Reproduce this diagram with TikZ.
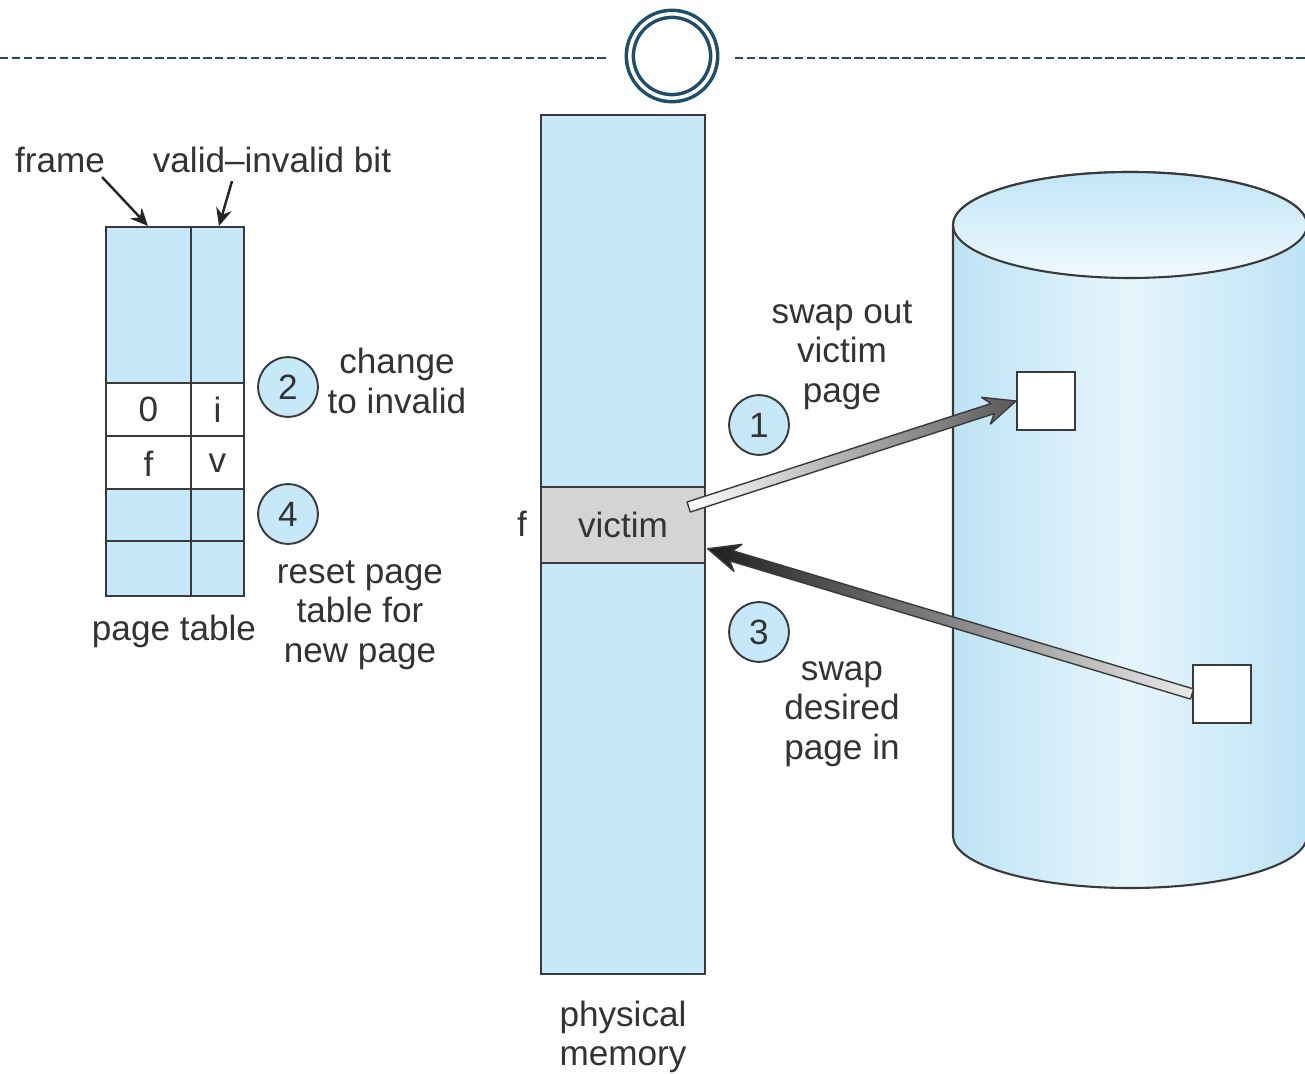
\documentclass[tikz,border=0pt]{standalone}
\usepackage{fontspec}
\setmainfont{Liberation Sans}
\usepackage{xcolor}
\usepackage{tikz}
\usetikzlibrary{positioning, arrows.meta, calc}
\definecolor{pageblue}{HTML}{C6E8F8}
\definecolor{diskedge}{HTML}{BDE3F6}
\definecolor{disklight}{HTML}{E6F5FC}
\definecolor{disktop}{HTML}{C2E5F7}
\definecolor{victimgray}{HTML}{D4D4D4}
\definecolor{inkgray}{HTML}{3A3A3A}
\definecolor{textgray}{HTML}{333333}
\definecolor{rulenavy}{HTML}{1F4E6B}

% thick shaded arrow: tail, tip, left colour, right colour
\newcommand{\swaparrow}[4]{%
  \coordinate (hb) at ($(#2)!18pt!(#1)$);
  \coordinate (hn) at ($(#2)!14pt!(#1)$);
  \shade[draw=inkgray, line width=0.8pt, line join=round, left color=#3, right color=#4]
    ($(#1)!3pt!90:(#2)$) -- ($(hn)!3pt!-90:(#1)$) -- ($(hb)!8pt!-90:(#1)$) -- (#2)
    -- ($(hb)!8pt!90:(#1)$) -- ($(hn)!3pt!90:(#1)$) -- ($(#1)!3pt!-90:(#2)$) -- cycle;}

\begin{document}
\begin{tikzpicture}[x=0.02cm, y=0.02cm, font=\fontsize{20}{22.5}\selectfont, text=textgray,
    cellbox/.style={draw=inkgray, line width=1.1pt},
    stepmark/.style={circle, draw=inkgray, fill=pageblue, line width=1.1pt, minimum size=34pt, inner sep=0pt},
    note/.style={align=center},
    lblarrow/.style={-{Stealth[length=10pt, width=9pt]}, line width=1.4pt, draw=black!85},
    diskslot/.style={draw=inkgray, fill=white, line width=1.1pt, minimum size=33pt, inner sep=0pt},
    dashrule/.style={rulenavy, line width=1.5pt, dash pattern=on 4.8pt off 2pt}]
    \useasboundingbox (0,0) rectangle (1305,1073);
    \fill[white] (0,0) rectangle (1305,1073);

    % top rule with ring
    \node (logo) [circle, draw=rulenavy, line width=2pt, double=white, double distance=2pt,
                  minimum size=48pt, inner sep=0pt] at (672,1017) {};
    \draw[dashrule] (0,1015) -- ($(logo.west)+(-19,-2)$);
    \draw[dashrule] ($(logo.east)+(19,-2)$) -- (1305,1015);

    % page table
    \fill[pageblue] (106,477) rectangle (244,846);
    \fill[white] (106,584) rectangle (244,690);
    \draw[cellbox] (106,477) rectangle (244,846);
    \draw[cellbox] (191,477) -- (191,846);
    \foreach \y in {532,584,637,690}
      \draw[cellbox] (106,\y) -- (244,\y);
    \node (frame0) at (148.5,663.5) {0};
    \node (bit0) at (217.5,663.5) {i};
    \node (framef) at (148.5,609.5) {f};
    \node (bitv) at (217.5,609.5) {v};
    \coordinate (frametop) at (148,847);
    \coordinate (bittop) at (219,847);

    \node (framelbl) at (60,913) {frame};
    \node (bitlbl) at (272,913) {valid--invalid bit};
    \draw[lblarrow] ($(framelbl.south east)+(-9,2)$) -- (frametop);
    \draw[lblarrow] ($(bitlbl.south)+(-40,-2)$) -- (bittop);
    \node (ptlbl) at (174,442) {page table};

    \node (step2) [stepmark] at (288,686) {2};
    \node (step2txt) [note] at (397,692) {change\\to invalid};
    \node (step4) [stepmark] at (288,559) {4};
    \node (step4txt) [note] at (360,458) {reset page\\table for\\new page};

    % physical memory
    \node (mem) [draw=inkgray, fill=pageblue, line width=1.1pt, minimum width=93pt,
                 minimum height=489pt, inner sep=0pt] at (623,528.5) {};
    \node (victim) [draw=inkgray, fill=victimgray, line width=1.1pt, minimum width=93pt,
                    minimum height=43pt] at (623,548) {victim};
    \node (flbl) at (522,549) {f};
    \node (memlbl) [note, below=11pt of mem] {physical\\memory};

    % backing store
    \shade[draw=inkgray, line width=1.2pt, left color=diskedge, right color=diskedge, middle color=disklight]
      (953,848) -- (953,237) arc[start angle=180, end angle=360, x radius=177, y radius=52]
      -- (1307,848) arc[start angle=0, end angle=180, x radius=177, y radius=53] -- cycle;
    \shade[draw=inkgray, line width=1.2pt, top color=disktop, bottom color=disklight!60!white]
      (1130,848) ellipse[x radius=177, y radius=53];
    \node (sqout) [diskslot] at (1046,672) {};
    \node (sqin) [diskslot] at (1222,379) {};

    \node (step1) [stepmark] at (759,648) {1};
    \node (step1txt) [note] at (842,718) {swap out\\victim\\page};
    \node (step3) [stepmark] at (759,441) {3};
    \node (step3txt) [note] at (842,359) {swap\\desired\\page in};

    \coordinate (outtail) at ($(victim.east)+(-17,18)$);
    \coordinate (intip) at ($(victim.south east)+(2,15)$);
    \swaparrow{outtail}{sqout.west}{white}{black!65}
    \swaparrow{sqin.west}{intip}{black!88}{black!8}
\end{tikzpicture}
\end{document}
